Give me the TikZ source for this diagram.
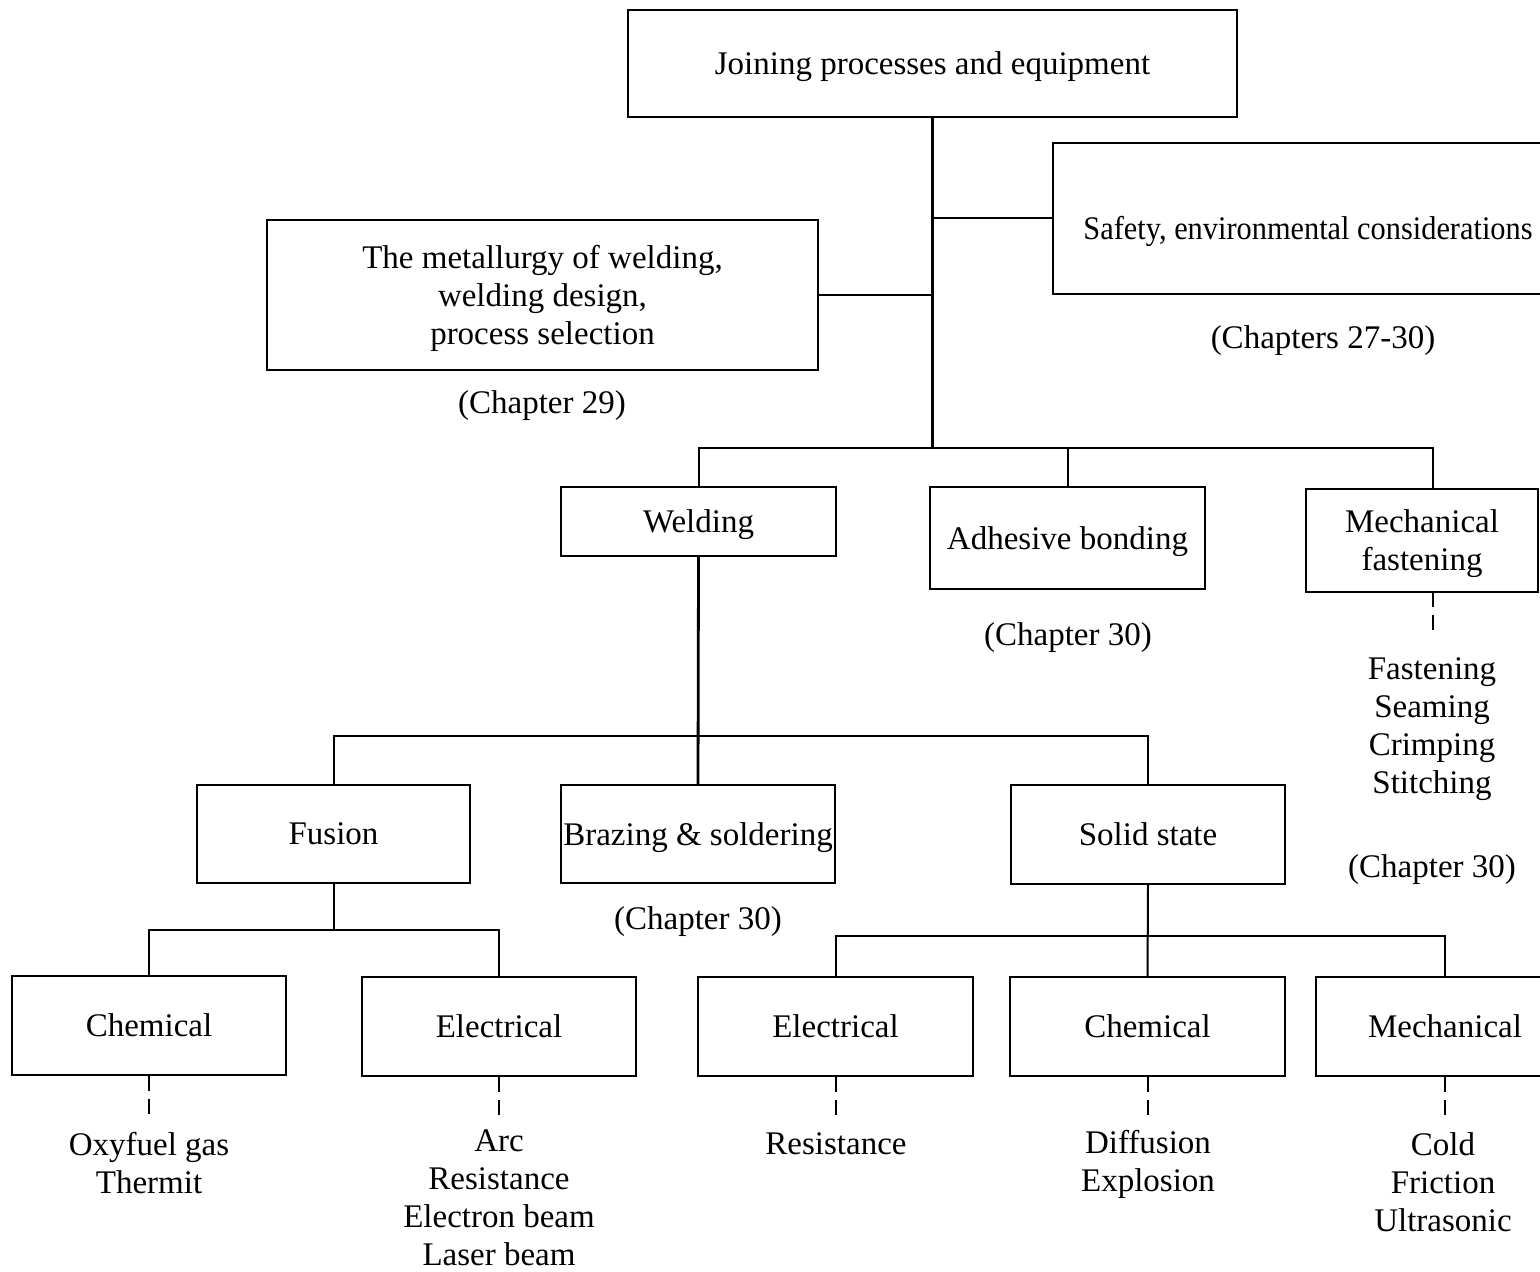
\documentclass[tikz,border=0pt]{standalone}
\usepackage{fontspec}
\setmainfont{Liberation Serif}
\usepackage{tikz}
\usetikzlibrary{positioning,calc}

\begin{document}
\begin{tikzpicture}[
    x=0.5pt, y=-0.5pt,
    box/.style={rectangle, draw=black, line width=1pt, inner sep=1pt, text depth=0pt,
                align=center, font=\fontsize{16.5}{19}\selectfont},
    txt/.style={align=center, inner sep=1pt, text depth=0pt, font=\fontsize{16.5}{19}\selectfont},
    link/.style={line width=1pt},
    trunk/.style={line width=1.4pt},
    tick/.style={line width=1pt, dash pattern=on 7.5pt off 4pt}
]
    \clip (0,0) rectangle (1540,1272);

    % top level
    \node[box, minimum width=304.5pt, minimum height=53.5pt] (join) at (932.5,63.5) {Joining processes and equipment};
    \node[box, minimum width=255pt, minimum height=75.5pt] (safety) at (1308,218.5) {\raisebox{-4.5pt}[\height][\depth]{\scalebox{0.92}[1]{Safety, environmental considerations}}};
    \node[box, minimum width=275.5pt, minimum height=75pt] (metal) at (542.5,295) {The metallurgy of welding,\\welding design,\\process selection};
    \node[txt] (chapA) at (1323,337) {(Chapters 27-30)};
    \node[txt] (chapB) at (542,402) {(Chapter 29)};

    % second level
    \node[box, minimum width=137.5pt, minimum height=34.5pt] (welding) at (698.5,521.5) {Welding};
    \node[box, minimum width=137.5pt, minimum height=51pt] (adhesive) at (1067.5,538) {Adhesive bonding};
    \node[box, minimum width=116pt, minimum height=51.5pt] (mechfast) at (1422,540.5) {Mechanical\\fastening};
    \node[txt] (chapC) at (1068,634) {(Chapter 30)};
    \node[txt] (fastlist) at (1432,726) {Fastening\\Seaming\\Crimping\\Stitching};
    \node[txt] (chapD) at (1432,866) {(Chapter 30)};

    % welding branches
    \node[box, minimum width=136.5pt, minimum height=49pt] (fusion) at (333.5,834) {Fusion};
    \node[box, minimum width=137pt, minimum height=49pt] (brazing) at (698,834) {Brazing \& soldering};
    \node[box, minimum width=137pt, minimum height=49.5pt] (solid) at (1148,834.5) {Solid state};
    \node[txt] (chapE) at (698,918) {(Chapter 30)};

    % bottom level
    \node[box, minimum width=137pt, minimum height=49.5pt] (chemA) at (149,1025.5) {Chemical};
    \node[box, minimum width=137pt, minimum height=49.5pt] (elecA) at (499,1026.5) {Electrical};
    \node[box, minimum width=137.5pt, minimum height=49.5pt] (elecB) at (835.5,1026.5) {Electrical};
    \node[box, minimum width=137.5pt, minimum height=49.5pt] (chemB) at (1147.5,1026.5) {Chemical};
    \node[box, minimum width=129pt, minimum height=49.5pt] (mechB) at (1445,1026.5) {Mechanical};

    \node[txt] (oxy) at (149,1163) {Oxyfuel gas\\Thermit};
    \node[txt] (arc) at (499,1198) {Arc\\Resistance\\Electron beam\\Laser beam};
    \node[txt] (resist) at (836,1144) {Resistance};
    \node[txt] (diff) at (1148,1161) {Diffusion\\Explosion};
    \node[txt] (cold) at (1443,1182) {Cold\\Friction\\Ultrasonic};

    % bus points
    \coordinate (busA) at (932.5,448);
    \coordinate (busB) at (698.5,736);
    \coordinate (busC) at (333.5,930);
    \coordinate (busD) at (1148,936);
    \coordinate (mfTop) at (1433,489);
    \coordinate (mfBot) at (1433,592);

    % connectors
    \draw[trunk] (join.south) -- (busA);
    \draw[link] (safety.west) -- (safety.west -| join.south);
    \draw[link] (metal.east) -- (metal.east -| join.south);
    \draw[link] (welding.north) |- (busA) -| (mfTop);
    \draw[link] (adhesive.north) -- (adhesive.north |- busA);

    \draw[trunk] (welding.south) -- (brazing.north);
    \draw[link] (fusion.north) |- (busB) -| (solid.north);

    \draw[link] (fusion.south) -- (busC);
    \draw[link] (chemA.north) |- (busC) -| (elecA.north);

    \draw[link] (solid.south) -- (chemB.north);
    \draw[link] (elecB.north) |- (busD) -| (mechB.north);

    % dashed ticks
    \draw[tick] (mfBot) -- ++(0,40);
    \draw[tick] (chemA.south) -- ++(0,40);
    \draw[tick] (elecA.south) -- ++(0,40);
    \draw[tick] (elecB.south) -- ++(0,40);
    \draw[tick] (chemB.south) -- ++(0,40);
    \draw[tick] (mechB.south) -- ++(0,40);
\end{tikzpicture}
\end{document}
